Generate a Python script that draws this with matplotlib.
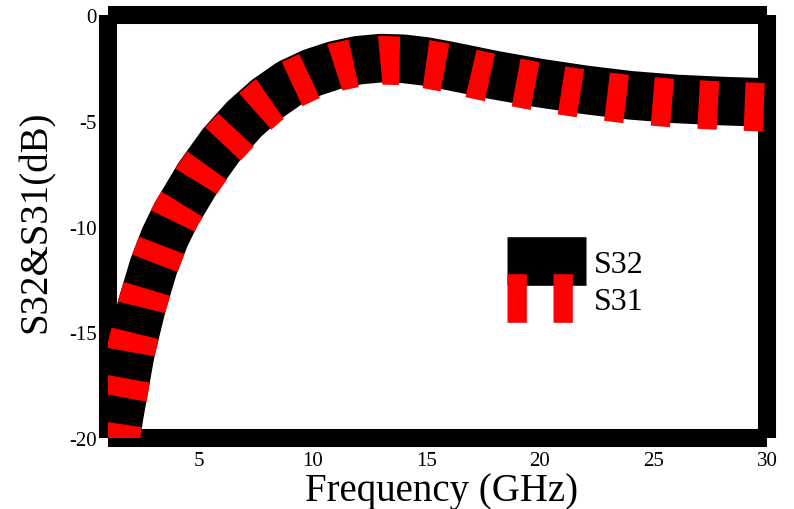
import numpy as np
import matplotlib
matplotlib.use('Agg')
import matplotlib.pyplot as plt
from matplotlib.lines import Line2D

# fonts: Times-like serif
matplotlib.rcParams['font.family'] = ['Liberation Serif', 'DejaVu Serif']
matplotlib.rcParams['axes.unicode_minus'] = False
matplotlib.rcParams['lines.scale_dashes'] = False

# data
freq = [1.0, 1.5, 2.0, 2.5, 3.0, 3.5, 4.0, 5.0, 6.0, 7.0, 8.0, 9.0, 10.0,
        11.0, 12.0, 13.0, 14.0, 15.0, 16.0, 17.0, 18.0, 20.0, 22.0, 24.0,
        26.0, 28.0, 30.0]
s32 = [-22.5, -18.9, -15.9, -13.7, -11.9, -10.5, -9.4, -7.6, -6.1, -4.9,
       -3.95, -3.2, -2.7, -2.35, -2.12, -2.02, -2.05, -2.18, -2.38, -2.6,
       -2.82, -3.2, -3.52, -3.78, -3.95, -4.05, -4.12]
s31 = [-22.5, -18.9, -15.9, -13.7, -11.9, -10.5, -9.4, -7.65, -6.15, -5.0,
       -4.05, -3.3, -2.8, -2.45, -2.22, -2.12, -2.15, -2.3, -2.5, -2.75,
       -2.98, -3.38, -3.72, -3.98, -4.16, -4.27, -4.35]
x_ticks = [5, 10, 15, 20, 25, 30]
y_ticks = [-20, -15, -10, -5, 0]

PX = 100 / 72.0          # pixels per point
DASH_ON = 19.3 / PX      # dash length, pt
DASH_OFF = 26.7 / PX     # gap length, pt


def dash_offset(ax, xs, ys, x_start):
    """dash phase so that one dash starts at x_start"""
    pts = ax.transData.transform(np.column_stack([xs, ys]))
    seg = np.hypot(*np.diff(pts, axis=0).T)
    cum = np.concatenate([[0.0], np.cumsum(seg)])
    s = np.interp(x_start, xs, cum) / PX
    return (-s) % (DASH_ON + DASH_OFF)


def create_plot():
    fig = plt.figure(figsize=(7.94, 5.10), dpi=100)
    ax = fig.add_axes([0.1360, 0.1392, 0.8300, 0.8285])
    ax.set_xlim(1, 30)
    ax.set_ylim(-20, 0)

    off = dash_offset(ax, freq, s31, 12.98)
    ax.plot(freq, s32, color='black', linewidth=35, solid_capstyle='butt',
            zorder=3)
    ax.plot(freq, s31, color='red', linewidth=35,
            linestyle=(off, (DASH_ON, DASH_OFF)),
            dash_capstyle='butt', zorder=4)

    ax.set_xticks(x_ticks)
    ax.set_yticks(y_ticks)
    ax.tick_params(axis='both', length=0, labelsize=15)
    ax.tick_params(axis='x', pad=9)
    ax.tick_params(axis='y', pad=8)

    # 粗边框
    for sp in ax.spines.values():
        sp.set_linewidth(13)
        sp.set_capstyle('butt')
        sp.set_zorder(2.5)

    ax.set_xlabel('Frequency (GHz)', fontsize=28)
    ax.set_ylabel('S32&S31(dB)', fontsize=28)
    ax.xaxis.set_label_coords(0.506, -0.081)
    ax.yaxis.set_label_coords(-0.081, 0.515)

    # legend handles: same style, dash pattern starting at zero
    h32 = Line2D([], [], color='black', linewidth=35, solid_capstyle='butt')
    h31 = Line2D([], [], color='red', linewidth=35,
                 linestyle=(0, (DASH_ON, DASH_OFF)), dash_capstyle='butt')
    leg = ax.legend([h32, h31], ['S32', 'S31'], loc='upper left',
                    bbox_to_anchor=(507.3 / 794, 1 - 251 / 510),
                    bbox_transform=fig.transFigure, frameon=False,
                    fontsize=23, borderpad=0, borderaxespad=0,
                    handlelength=2.46, handletextpad=0.25, labelspacing=0.22)
    leg.set_zorder(5)

    fig.savefig('out.png', dpi=100)
    plt.close(fig)


if __name__ == "__main__":
    create_plot()
